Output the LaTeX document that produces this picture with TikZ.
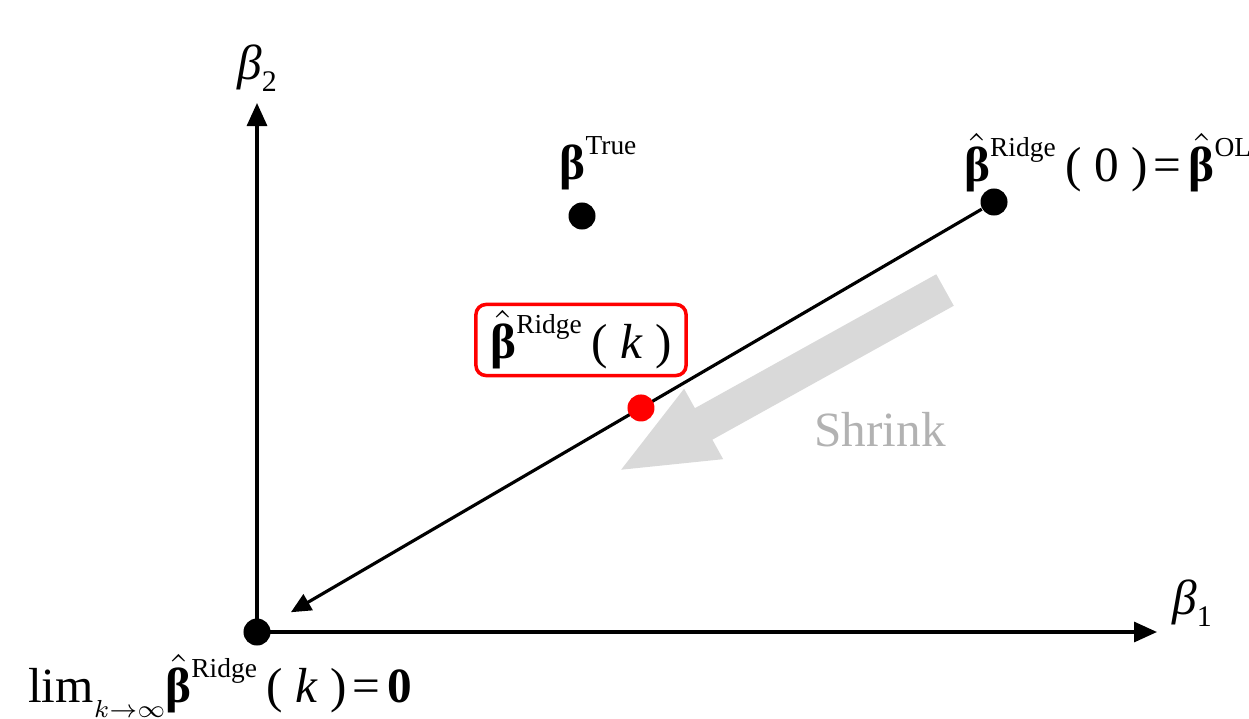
\documentclass[tikz,border=0pt]{standalone}
\usepackage{amsmath,amssymb}
\usepackage{fontspec}
\setmainfont{Liberation Serif}
\usetikzlibrary{
	positioning,
	arrows.meta,
	calc
}
\newcommand{\bvec}{\textbf{β}}
\newcommand{\bhat}{$\hat{\mbox{\textbf{β}}}$}
\newcommand{\supr}[1]{\raisebox{1.1ex}{\fontsize{7.8}{9}\selectfont #1}}
\newcommand{\subr}[1]{\raisebox{-0.55ex}{\fontsize{8.5}{10}\selectfont #1}}

\begin{document}
\begin{tikzpicture}[
			x=0.01cm,y=-0.01cm,
			dot/.style={
				circle,
				fill=black,
				inner sep=0pt,
				minimum size=0.27cm
			},
			lbl/.style={
				font=\fontsize{14}{17}\selectfont,
				inner sep=1pt
			},
			axis/.style={line width=0.9pt,-{Triangle[length=2.3mm,width=2mm]}},
			path/.style={line width=0.9pt,-{Triangle[length=2mm,width=1.8mm]}},
			shrink/.style={line width=0.36cm,draw=gray!30,-{Triangle[length=9.9mm,width=7.2mm]}}
			]
			
			\useasboundingbox (0,0) rectangle (1249,718);
			
			\node[dot] (origin) at (257,632) {};
			\node[dot] (true) at (582,216) {};
			\node[dot] (ols) at (994,202) {};
			
			% shrink arrow
			\coordinate (sstart) at (945,290);
			\coordinate (send) at (617,472);
			\draw[shrink] (sstart) -- (send);
			\node[lbl,text=gray!60] (shrinklbl) at (880,430) {Shrink};
			
			% axes
			\coordinate (xend) at (1157,632);
			\coordinate (yend) at (257,103);
			\draw[axis] (origin.center) -- (xend);
			\draw[axis] (origin.center) -- (yend);
			\node[lbl] (b1) at (1192,603) {\textit{β}\subr{1}};
			\node[lbl] (b2) at (257,68) {\textit{β}\subr{2}};
			
			% ridge path
			\draw[path,shorten >=0.25cm] (ols) -- (origin);
			\node[dot,fill=red] (ridgek) at ($(ols)!0.479!(origin)$) {};
			
			% labels
			\node[lbl] (truelbl) at (598,163)
			{\bvec\supr{True}};
			\node[lbl,anchor=west] (olslbl) at (960,163)
			{\bhat\supr{Ridge}\hspace{0.2em}( 0 )\hspace{0.12em}=\hspace{0.15em}\bhat\supr{OLS}};
			\node[lbl,draw=red,line width=1pt,rounded corners=0.1cm,
				minimum width=2.1cm,minimum height=0.71cm] (ridgelbl) at (581,340)
			{\bhat\supr{Ridge}\hspace{0.2em}( \textit{k} )};
			\node[lbl,anchor=west] (limlbl) at (24,686)
			{lim\raisebox{-0.7ex}{\fontsize{7}{8}\selectfont$k\mathord{\to}\infty$}\bhat\supr{Ridge}\hspace{0.2em}( \textit{k} )\hspace{0.12em}=\hspace{0.15em}\textbf{0}};
			
		\end{tikzpicture}
\end{document}
